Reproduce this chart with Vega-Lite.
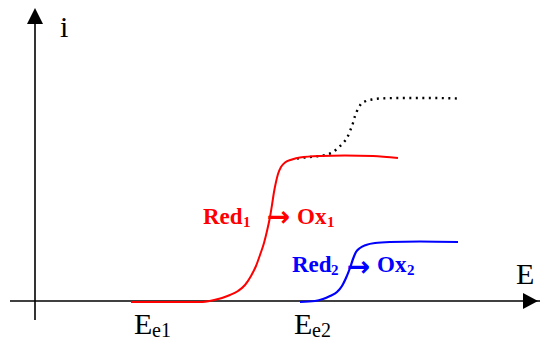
{
  "$schema": "https://vega.github.io/schema/vega-lite/v6.json",
  "width": 540,
  "height": 340,
  "padding": 0,
  "autosize": {"type": "none"},
  "config": {"view": {"stroke": null}},
  "datasets": {
    "curves": [
      {"series": "red", "E": 96, "i": -1}, {"series": "red", "E": 165, "i": -1}, {"series": "red", "E": 177, "i": 0.5},
      {"series": "red", "E": 187, "i": 3}, {"series": "red", "E": 195, "i": 6}, {"series": "red", "E": 203, "i": 10},
      {"series": "red", "E": 210, "i": 16}, {"series": "red", "E": 216, "i": 25}, {"series": "red", "E": 221, "i": 35},
      {"series": "red", "E": 225, "i": 46}, {"series": "red", "E": 229, "i": 58}, {"series": "red", "E": 232, "i": 70},
      {"series": "red", "E": 235, "i": 84}, {"series": "red", "E": 237, "i": 96}, {"series": "red", "E": 239, "i": 109},
      {"series": "red", "E": 241, "i": 119}, {"series": "red", "E": 243, "i": 127}, {"series": "red", "E": 246, "i": 134},
      {"series": "red", "E": 250, "i": 138.5}, {"series": "red", "E": 257, "i": 141.5}, {"series": "red", "E": 265, "i": 143.5},
      {"series": "red", "E": 285, "i": 145}, {"series": "red", "E": 310, "i": 145.5}, {"series": "red", "E": 338, "i": 145},
      {"series": "red", "E": 363, "i": 143},
      {"series": "blue", "E": 265, "i": -1}, {"series": "blue", "E": 280, "i": 0}, {"series": "blue", "E": 288, "i": 2},
      {"series": "blue", "E": 295, "i": 5}, {"series": "blue", "E": 302, "i": 9}, {"series": "blue", "E": 307, "i": 15},
      {"series": "blue", "E": 311, "i": 23}, {"series": "blue", "E": 315, "i": 33}, {"series": "blue", "E": 318, "i": 42},
      {"series": "blue", "E": 321, "i": 49}, {"series": "blue", "E": 325, "i": 53}, {"series": "blue", "E": 331, "i": 56},
      {"series": "blue", "E": 340, "i": 58}, {"series": "blue", "E": 355, "i": 59}, {"series": "blue", "E": 385, "i": 59.5},
      {"series": "blue", "E": 423, "i": 59},
      {"series": "total", "E": 262, "i": 142.5}, {"series": "total", "E": 270, "i": 143.5}, {"series": "total", "E": 280, "i": 144.5},
      {"series": "total", "E": 290, "i": 146}, {"series": "total", "E": 297, "i": 148.5}, {"series": "total", "E": 303, "i": 153},
      {"series": "total", "E": 308, "i": 158}, {"series": "total", "E": 312, "i": 163}, {"series": "total", "E": 315, "i": 170},
      {"series": "total", "E": 318, "i": 178}, {"series": "total", "E": 320, "i": 185}, {"series": "total", "E": 323, "i": 192},
      {"series": "total", "E": 326, "i": 197}, {"series": "total", "E": 331, "i": 200}, {"series": "total", "E": 337, "i": 201.5},
      {"series": "total", "E": 345, "i": 202.5}, {"series": "total", "E": 365, "i": 203}, {"series": "total", "E": 395, "i": 203},
      {"series": "total", "E": 423, "i": 202.5}
    ],
    "axes": [
      {"axis": "E", "E": -25, "i": 0, "E2": 525, "i2": 0},
      {"axis": "i", "E": 0, "i": -19, "E2": 0, "i2": 285}
    ],
    "heads": [
      {"axis": "E", "E": 495, "i": 0},
      {"axis": "i", "E": 0, "i": 285}
    ],
    "labels": [
      {"role": "main", "species": "none", "text": "i", "E": 25, "i": 264},
      {"role": "main", "species": "none", "text": "E", "E": 481, "i": 17},
      {"role": "main", "species": "none", "text": "E", "E": 99, "i": -33},
      {"role": "main", "species": "none", "text": "E", "E": 259, "i": -33},
      {"role": "sub", "species": "none", "text": "e1", "E": 117, "i": -36},
      {"role": "sub", "species": "none", "text": "e2", "E": 277, "i": -36},
      {"role": "species", "species": "1", "text": "Red", "E": 168, "i": 77},
      {"role": "species", "species": "1", "text": "Ox", "E": 262, "i": 77},
      {"role": "species", "species": "2", "text": "Red", "E": 257, "i": 29},
      {"role": "species", "species": "2", "text": "Ox", "E": 342, "i": 29},
      {"role": "speciesSub", "species": "1", "text": "1", "E": 208, "i": 74},
      {"role": "speciesSub", "species": "1", "text": "1", "E": 292, "i": 74},
      {"role": "speciesSub", "species": "2", "text": "2", "E": 296, "i": 26},
      {"role": "speciesSub", "species": "2", "text": "2", "E": 372, "i": 26},
      {"role": "arrow", "species": "1", "text": "→", "E": 243.5, "i": 84},
      {"role": "arrow", "species": "2", "text": "→", "E": 323.5, "i": 34}
    ]
  },
  "encoding": {
    "x": {"field": "E", "type": "quantitative", "scale": {"domain": [-35, 505], "nice": false, "zero": false}, "axis": null},
    "y": {"field": "i", "type": "quantitative", "scale": {"domain": [-39, 301], "nice": false, "zero": false}, "axis": null}
  },
  "layer": [
    {
      "data": {"name": "axes"},
      "mark": {"type": "rule", "color": "black", "strokeWidth": 1.6},
      "encoding": {"x2": {"field": "E2"}, "y2": {"field": "i2"}}
    },
    {
      "data": {"name": "heads"},
      "transform": [{"filter": "datum.axis === 'E'"}],
      "mark": {"type": "point", "shape": "M-0.875,-1L1,0L-0.875,1Z", "size": 256, "filled": true, "color": "black", "opacity": 1}
    },
    {
      "data": {"name": "heads"},
      "transform": [{"filter": "datum.axis === 'i'"}],
      "mark": {"type": "point", "shape": "M-1,1L0,-1L1,1Z", "size": 256, "filled": true, "color": "black", "opacity": 1}
    },
    {
      "data": {"name": "curves"},
      "transform": [{"filter": "datum.series === 'total'"}],
      "mark": {"type": "line", "color": "black", "strokeWidth": 2.4, "strokeDash": [2, 4.5], "interpolate": "monotone"}
    },
    {
      "data": {"name": "curves"},
      "transform": [{"filter": "datum.series === 'red'"}],
      "mark": {"type": "line", "color": "#ff0000", "strokeWidth": 2, "interpolate": "monotone"}
    },
    {
      "data": {"name": "curves"},
      "transform": [{"filter": "datum.series === 'blue'"}],
      "mark": {"type": "line", "color": "#0000ff", "strokeWidth": 2.2, "interpolate": "monotone"}
    },
    {
      "data": {"name": "labels"},
      "transform": [{"filter": "datum.role === 'main'"}],
      "mark": {"type": "text", "align": "left", "baseline": "alphabetic", "font": "Liberation Serif", "fontSize": 30, "color": "black"},
      "encoding": {"text": {"field": "text"}}
    },
    {
      "data": {"name": "labels"},
      "transform": [{"filter": "datum.role === 'sub'"}],
      "mark": {"type": "text", "align": "left", "baseline": "alphabetic", "font": "Liberation Serif", "fontSize": 20, "color": "black"},
      "encoding": {"text": {"field": "text"}}
    },
    {
      "data": {"name": "labels"},
      "transform": [{"filter": "datum.role === 'species'"}],
      "mark": {"type": "text", "align": "left", "baseline": "alphabetic", "font": "Liberation Serif", "fontSize": 23, "fontWeight": "bold"},
      "encoding": {"text": {"field": "text"}, "color": {"field": "species", "type": "nominal", "scale": {"domain": ["1", "2"], "range": ["#ff0000", "#0000ff"]}, "legend": null}}
    },
    {
      "data": {"name": "labels"},
      "transform": [{"filter": "datum.role === 'speciesSub'"}],
      "mark": {"type": "text", "align": "left", "baseline": "alphabetic", "font": "Liberation Serif", "fontSize": 15, "fontWeight": "bold"},
      "encoding": {"text": {"field": "text"}, "color": {"field": "species", "type": "nominal", "scale": {"domain": ["1", "2"], "range": ["#ff0000", "#0000ff"]}, "legend": null}}
    },
    {
      "data": {"name": "labels"},
      "transform": [{"filter": "datum.role === 'arrow'"}],
      "mark": {"type": "text", "align": "center", "baseline": "middle", "font": "DejaVu Sans", "fontSize": 28, "fontWeight": "bold", "dy": 1},
      "encoding": {"text": {"field": "text"}, "color": {"field": "species", "type": "nominal", "scale": {"domain": ["1", "2"], "range": ["#ff0000", "#0000ff"]}, "legend": null}}
    }
  ]
}
